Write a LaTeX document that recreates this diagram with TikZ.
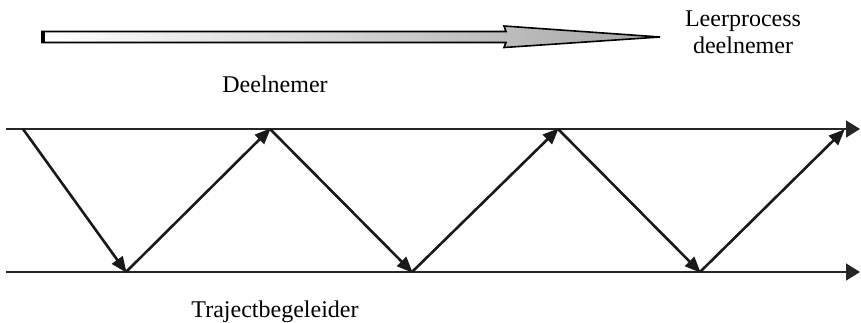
\documentclass[tikz,border=0pt]{standalone}
\usepackage{fontspec}
\setmainfont{Liberation Serif}
\usetikzlibrary{arrows.meta}
\begin{document}
\begin{tikzpicture}[x=1pt,y=-1pt,
  lbl/.style={font=\fontsize{24}{27}\selectfont, inner sep=0pt},
  track/.style={line width=1.4pt, draw=black!85, -{Triangle[length=14pt,width=17pt]}},
  zig/.style={line width=2.6pt, draw=black!90, -{Triangle[length=16pt,width=13pt]}, shorten >=-1pt},
  bigarrow/.style={draw=black, line width=1.6pt, line join=miter, left color=white, right color=black!35}
]
\useasboundingbox (0,0) rectangle (861,322);
% big process arrow
\path[bigarrow] (42,31.5) -- (506,31.5) -- (504,26) -- (660,37) -- (504,47.5) -- (506,42.5) -- (42,42.5) -- cycle;
\draw[line width=3pt] (43.5,30.7) -- (43.5,43.3);
\node[lbl, align=center] (proc) at (743,32) {Leerprocess\\deelnemer};
\node[lbl, anchor=base] (deel) at (275,92) {Deelnemer};
\node[lbl, anchor=base] (traj) at (275,317) {Trajectbegeleider};
% tracks
\coordinate (t0) at (6,129);
\coordinate (t1) at (860,129);
\coordinate (b0) at (6,272);
\coordinate (b1) at (860,272);
\draw[track] (t0) -- (t1);
\draw[track] (b0) -- (b1);
% zigzag points
\coordinate (s) at (23,129);
\coordinate (p1) at (126,272);
\coordinate (q1) at (270,129);
\coordinate (p2) at (412,272);
\coordinate (q2) at (558,129);
\coordinate (p3) at (700,272);
\coordinate (q3) at (844,130);
\draw[zig] (s) -- (p1);
\draw[zig] (p1) -- (q1);
\draw[zig] (q1) -- (p2);
\draw[zig] (p2) -- (q2);
\draw[zig] (q2) -- (p3);
\draw[zig] (p3) -- (q3);
\end{tikzpicture}
\end{document}
